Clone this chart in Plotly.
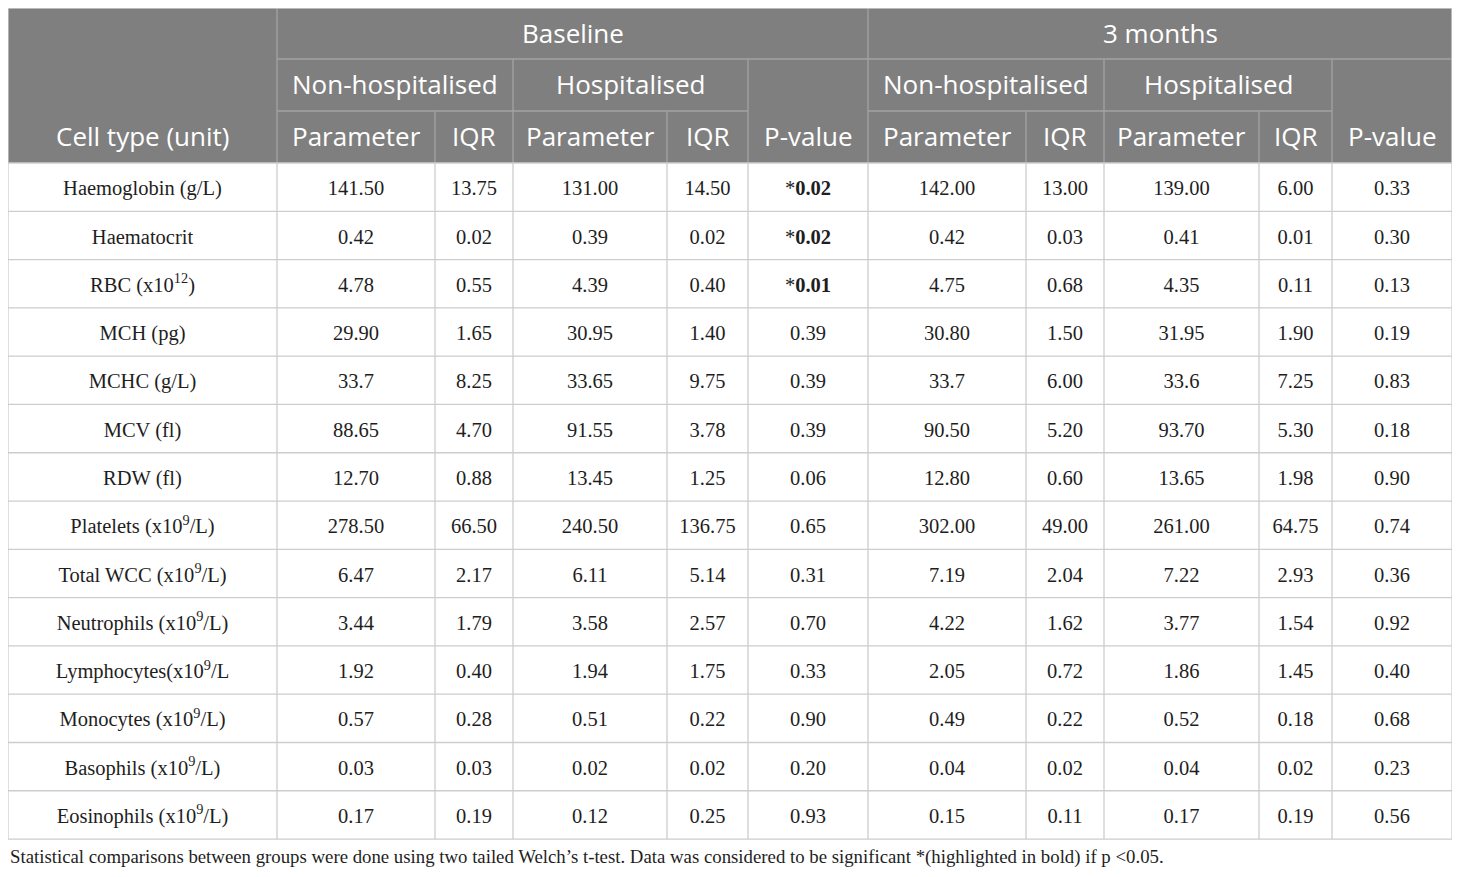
import plotly.graph_objects as go

# ---- data ----
cell_types = ["Haemoglobin (g/L)", "Haematocrit", "RBC (x10<sup>12</sup>)", "MCH (pg)",
              "MCHC (g/L)", "MCV (fl)", "RDW (fl)", "Platelets (x10<sup>9</sup>/L)",
              "Total WCC (x10<sup>9</sup>/L)", "Neutrophils (x10<sup>9</sup>/L)",
              "Lymphocytes(x10<sup>9</sup>/L", "Monocytes (x10<sup>9</sup>/L)",
              "Basophils (x10<sup>9</sup>/L)", "Eosinophils (x10<sup>9</sup>/L)"]

base_nonhosp_param = ["141.50", "0.42", "4.78", "29.90", "33.7", "88.65", "12.70", "278.50", "6.47", "3.44", "1.92", "0.57", "0.03", "0.17"]
base_nonhosp_iqr = ["13.75", "0.02", "0.55", "1.65", "8.25", "4.70", "0.88", "66.50", "2.17", "1.79", "0.40", "0.28", "0.03", "0.19"]
base_hosp_param = ["131.00", "0.39", "4.39", "30.95", "33.65", "91.55", "13.45", "240.50", "6.11", "3.58", "1.94", "0.51", "0.02", "0.12"]
base_hosp_iqr = ["14.50", "0.02", "0.40", "1.40", "9.75", "3.78", "1.25", "136.75", "5.14", "2.57", "1.75", "0.22", "0.02", "0.25"]
base_p = ["0.02", "0.02", "0.01", "0.39", "0.39", "0.39", "0.06", "0.65", "0.31", "0.70", "0.33", "0.90", "0.20", "0.93"]

m3_nonhosp_param = ["142.00", "0.42", "4.75", "30.80", "33.7", "90.50", "12.80", "302.00", "7.19", "4.22", "2.05", "0.49", "0.04", "0.15"]
m3_nonhosp_iqr = ["13.00", "0.03", "0.68", "1.50", "6.00", "5.20", "0.60", "49.00", "2.04", "1.62", "0.72", "0.22", "0.02", "0.11"]
m3_hosp_param = ["139.00", "0.41", "4.35", "31.95", "33.6", "93.70", "13.65", "261.00", "7.22", "3.77", "1.86", "0.52", "0.04", "0.17"]
m3_hosp_iqr = ["6.00", "0.01", "0.11", "1.90", "7.25", "5.30", "1.98", "64.75", "2.93", "1.54", "1.45", "0.18", "0.02", "0.19"]
m3_p = ["0.33", "0.30", "0.13", "0.19", "0.83", "0.18", "0.90", "0.74", "0.36", "0.92", "0.40", "0.68", "0.23", "0.56"]

timepoints = ["Baseline", "3 months"]
groups = ["Non-hospitalised", "Hospitalised"]
sub_cols = ["Parameter", "IQR"]
first_col_title = "Cell type (unit)"
pval_title = "P-value"
footnote = ("Statistical comparisons between groups were done using two tailed Welch\u2019s t-test. "
            "Data was considered to be significant *(highlighted in bold) if p <0.05.")


def fmt_p(vals):
    return ["*<b>%s</b>" % v if float(v) < 0.05 else v for v in vals]


columns = [cell_types,
           base_nonhosp_param, base_nonhosp_iqr, base_hosp_param, base_hosp_iqr, fmt_p(base_p),
           m3_nonhosp_param, m3_nonhosp_iqr, m3_hosp_param, m3_hosp_iqr, fmt_p(m3_p)]

# ---- layout geometry (screen pixels; the page body adds an 8px offset) ----
W, H = 1460, 877
OFF = 8
col_w = [269, 158, 78, 154, 81, 120, 158, 78, 155, 73, 120]
x_edges = [8]
for w in col_w:
    x_edges.append(x_edges[-1] + w)
top = 8
head_h = [51, 52, 52]
head_edges = [top]
for h in head_h:
    head_edges.append(head_edges[-1] + h)
body_top = head_edges[-1]
row_h = 48.29
n_rows = len(cell_types)
body_bottom = body_top + row_h * n_rows

HEAD_BG = "#7f7f7f"
HEAD_LINE = "#a3a3a3"
GRID = "#cdcdcd"
TXT = "#1e1e1e"
head_font = dict(family="Open Sans", size=26, color="white")
body_font = dict(family="Liberation Serif", size=20.5, color=TXT)

fig = go.Figure()
shapes = []
annos = []

# header background
shapes.append(dict(type="rect", x0=x_edges[0], x1=x_edges[-1], y0=head_edges[0], y1=head_edges[-1],
                   fillcolor=HEAD_BG, line=dict(width=0), layer="below"))


def hline(x0, x1, y, color):
    shapes.append(dict(type="line", x0=x0, x1=x1, y0=y, y1=y, line=dict(color=color, width=1.3)))


def vline(x, y0, y1, color):
    shapes.append(dict(type="line", x0=x, x1=x, y0=y0, y1=y1, line=dict(color=color, width=1.3)))


def head_text(txt, xa, xb, ya, yb):
    annos.append(dict(x=(xa + xb) / 2, y=(ya + yb) / 2 - 1, text=txt, showarrow=False,
                      font=head_font, xanchor="center", yanchor="middle"))


# header structure
head_text(first_col_title, x_edges[0], x_edges[1], head_edges[2], head_edges[3])
vline(x_edges[1], head_edges[0], head_edges[3], HEAD_LINE)
for t, name in enumerate(timepoints):
    c0 = 1 + t * 5
    xa, xb = x_edges[c0], x_edges[c0 + 5]
    head_text(name, xa, xb, head_edges[0], head_edges[1])
    hline(xa, xb, head_edges[1], HEAD_LINE)
    vline(xb, head_edges[0], head_edges[3], HEAD_LINE)
    for g, gname in enumerate(groups):
        ga, gb = x_edges[c0 + 2 * g], x_edges[c0 + 2 * g + 2]
        head_text(gname, ga, gb, head_edges[1], head_edges[2])
        hline(ga, gb, head_edges[2], HEAD_LINE)
        vline(gb, head_edges[1], head_edges[3], HEAD_LINE)
        for s, sname in enumerate(sub_cols):
            sa, sb = x_edges[c0 + 2 * g + s], x_edges[c0 + 2 * g + s + 1]
            head_text(sname, sa, sb, head_edges[2], head_edges[3])
            if s == 0:
                vline(sb, head_edges[2], head_edges[3], HEAD_LINE)
    head_text(pval_title, x_edges[c0 + 4], x_edges[c0 + 5], head_edges[2], head_edges[3])

# body grid
for i in range(n_rows + 1):
    hline(x_edges[0], x_edges[-1], body_top + i * row_h, GRID)
for x in x_edges:
    vline(x, body_top, body_bottom, GRID)
vline(x_edges[0], head_edges[0], body_top, GRID)
vline(x_edges[-1], head_edges[0], body_top, GRID)
hline(x_edges[0], x_edges[-1], head_edges[0], GRID)

# body text (nudged down a little so the digits sit mid-row)
row_centers = [body_top + (i + 0.5) * row_h + 3 for i in range(n_rows)]
for c, vals in enumerate(columns):
    xc = (x_edges[c] + x_edges[c + 1]) / 2
    fig.add_trace(go.Scatter(x=[xc] * n_rows, y=row_centers, text=vals, mode="text",
                             textposition="middle center", textfont=body_font,
                             hoverinfo="skip", showlegend=False))

# footnote
annos.append(dict(x=x_edges[0], y=857, text=footnote, showarrow=False,
                  xanchor="left", yanchor="middle",
                  font=dict(family="Liberation Serif", size=18.8, color=TXT)))

fig.update_layout(
    width=W, height=H,
    margin=dict(l=0, r=0, t=0, b=0),
    paper_bgcolor="white", plot_bgcolor="white",
    shapes=shapes, annotations=annos,
    xaxis=dict(range=[OFF, W + OFF], visible=False, fixedrange=True),
    yaxis=dict(range=[H + OFF, OFF], visible=False, fixedrange=True),
)

fig.write_html("out.html")
